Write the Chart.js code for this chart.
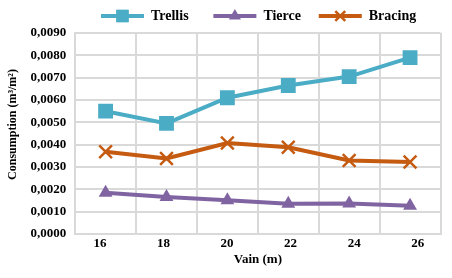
<!DOCTYPE html>
<html>
<head>
<meta charset="utf-8">
<script src="https://cdn.jsdelivr.net/npm/chart.js@4"></script>
<style>
  html, body { margin: 0; padding: 0; background: #fff; }
  #wrap { width: 452px; height: 278px; }
</style>
</head>
<body>
<div id="wrap"><canvas id="chart"></canvas></div>
<script>
const vains = [16, 18, 20, 22, 24, 26];
const trellis = [0.0055, 0.00495, 0.0061, 0.00665, 0.00705, 0.0079];
const tierce = [0.00185, 0.00166, 0.00151, 0.00136, 0.00137, 0.00126];
const bracing = [0.00368, 0.00338, 0.00407, 0.00388, 0.00329, 0.00322];
const yTicks = [0, 0.001, 0.002, 0.003, 0.004, 0.005, 0.006, 0.007, 0.008, 0.009];

const serif = "'Liberation Serif', 'Times New Roman', serif";
const gridColor = "#D9D9D9";
// extra room after each legend text, so items sit where excel put them
const legendGaps = ["\u2002\u2002\u2009", "\u2002\u2009", "\u2002\u2002\u2009"];

// legend only draws a bar, so put the marker on top of it
const legendMarkers = {
  id: "legendMarkers",
  afterDraw(chart) {
    const legend = chart.legend;
    if (!legend || !legend.legendHitBoxes) return;
    const ctx = chart.ctx;
    const bw = legend.options.labels.boxWidth;
    legend.legendHitBoxes.forEach((box, i) => {
      const ds = chart.data.datasets[i];
      ctx.save();
      ctx.fillStyle = ds.pointBackgroundColor;
      ctx.strokeStyle = ds.pointBorderColor;
      ctx.lineWidth = ds.pointBorderWidth;
      Chart.helpers.drawPoint(ctx, {
        pointStyle: ds.pointStyle,
        radius: ds.legendRadius,
        borderWidth: ds.pointBorderWidth,
      }, box.left + bw / 2, box.top + box.height / 2);
      ctx.restore();
    });
  },
};

new Chart(document.getElementById("chart"), {
  type: "line",
  data: {
    labels: vains,
    datasets: [
      {
        label: "Trellis",
        data: trellis,
        borderColor: "#4BACC6",
        backgroundColor: "#4BACC6",
        borderWidth: 4,
        pointStyle: "rect",
        pointRadius: 10.5,
        pointBackgroundColor: "#4BACC6",
        pointBorderColor: "#4BACC6",
        pointBorderWidth: 0,
        legendRadius: 9,
      },
      {
        label: "Tierce",
        data: tierce,
        borderColor: "#8064A2",
        backgroundColor: "#8064A2",
        borderWidth: 4,
        pointStyle: "triangle",
        pointRadius: 8,
        pointBackgroundColor: "#8064A2",
        pointBorderColor: "#8064A2",
        pointBorderWidth: 0,
        legendRadius: 7,
      },
      {
        label: "Bracing",
        data: bracing,
        borderColor: "#C55A11",
        backgroundColor: "#C55A11",
        borderWidth: 4,
        pointStyle: "crossRot",
        pointRadius: 9,
        pointBackgroundColor: "#C55A11",
        pointBorderColor: "#C55A11",
        pointBorderWidth: 2.5,
        legendRadius: 7,
      },
    ],
  },
  options: {
    responsive: true,
    maintainAspectRatio: false,
    animation: false,
    layout: { padding: { top: 1, right: 11, left: 2, bottom: 12 } },
    plugins: {
      tooltip: { enabled: false },
      legend: {
        display: true,
        position: "top",
        align: "end",
        labels: {
          boxWidth: 43,
          boxHeight: 4,
          padding: 8,
          color: "#000",
          font: { family: serif, size: 14, weight: "bold" },
          generateLabels: (chart) =>
            Chart.defaults.plugins.legend.labels.generateLabels(chart).map((item, i) => ({
              ...item,
              text: item.text + legendGaps[i],
              lineWidth: 0,
            })),
        },
      },
    },
    scales: {
      x: {
        type: "category",
        offset: true,
        weight: 0,
        grid: { offset: true, color: gridColor, lineWidth: 2, drawTicks: false },
        border: { color: gridColor, width: 2 },
        ticks: { display: false },
      },
      x2: {
        type: "linear",
        position: "bottom",
        weight: 1,
        min: 15.221,
        max: 26.717,
        afterBuildTicks: (axis) => {
          axis.ticks = vains.map((v) => ({ value: v }));
        },
        grid: { display: false, drawTicks: false },
        border: { display: false },
        ticks: {
          color: "#000",
          padding: 3,
          font: { family: serif, size: 13, weight: "bold", lineHeight: 1 },
          maxRotation: 0,
        },
        title: {
          display: true,
          text: "Vain (m)",
          color: "#000",
          padding: { top: 0, bottom: 0 },
          font: { family: serif, size: 13, weight: "bold", lineHeight: 1 },
        },
      },
      y: {
        min: 0,
        max: 0.009,
        afterBuildTicks: (axis) => {
          axis.ticks = yTicks.map((v) => ({ value: v }));
        },
        grid: { color: gridColor, lineWidth: 2, drawTicks: false },
        border: { color: gridColor, width: 2 },
        ticks: {
          color: "#000",
          padding: 9,
          font: { family: serif, size: 13, weight: "bold" },
          callback: (v) => Number(v).toFixed(4).replace(".", ","),
        },
        title: {
          display: true,
          // leading spaces lift the text a little, as in the original
          text: "\u2002\u2002\u2002Consumption (m³/m²)",
          color: "#000",
          padding: { top: 4, bottom: 1 },
          font: { family: serif, size: 12, weight: "bold" },
        },
      },
    },
  },
  plugins: [legendMarkers],
});
</script>
</body>
</html>
